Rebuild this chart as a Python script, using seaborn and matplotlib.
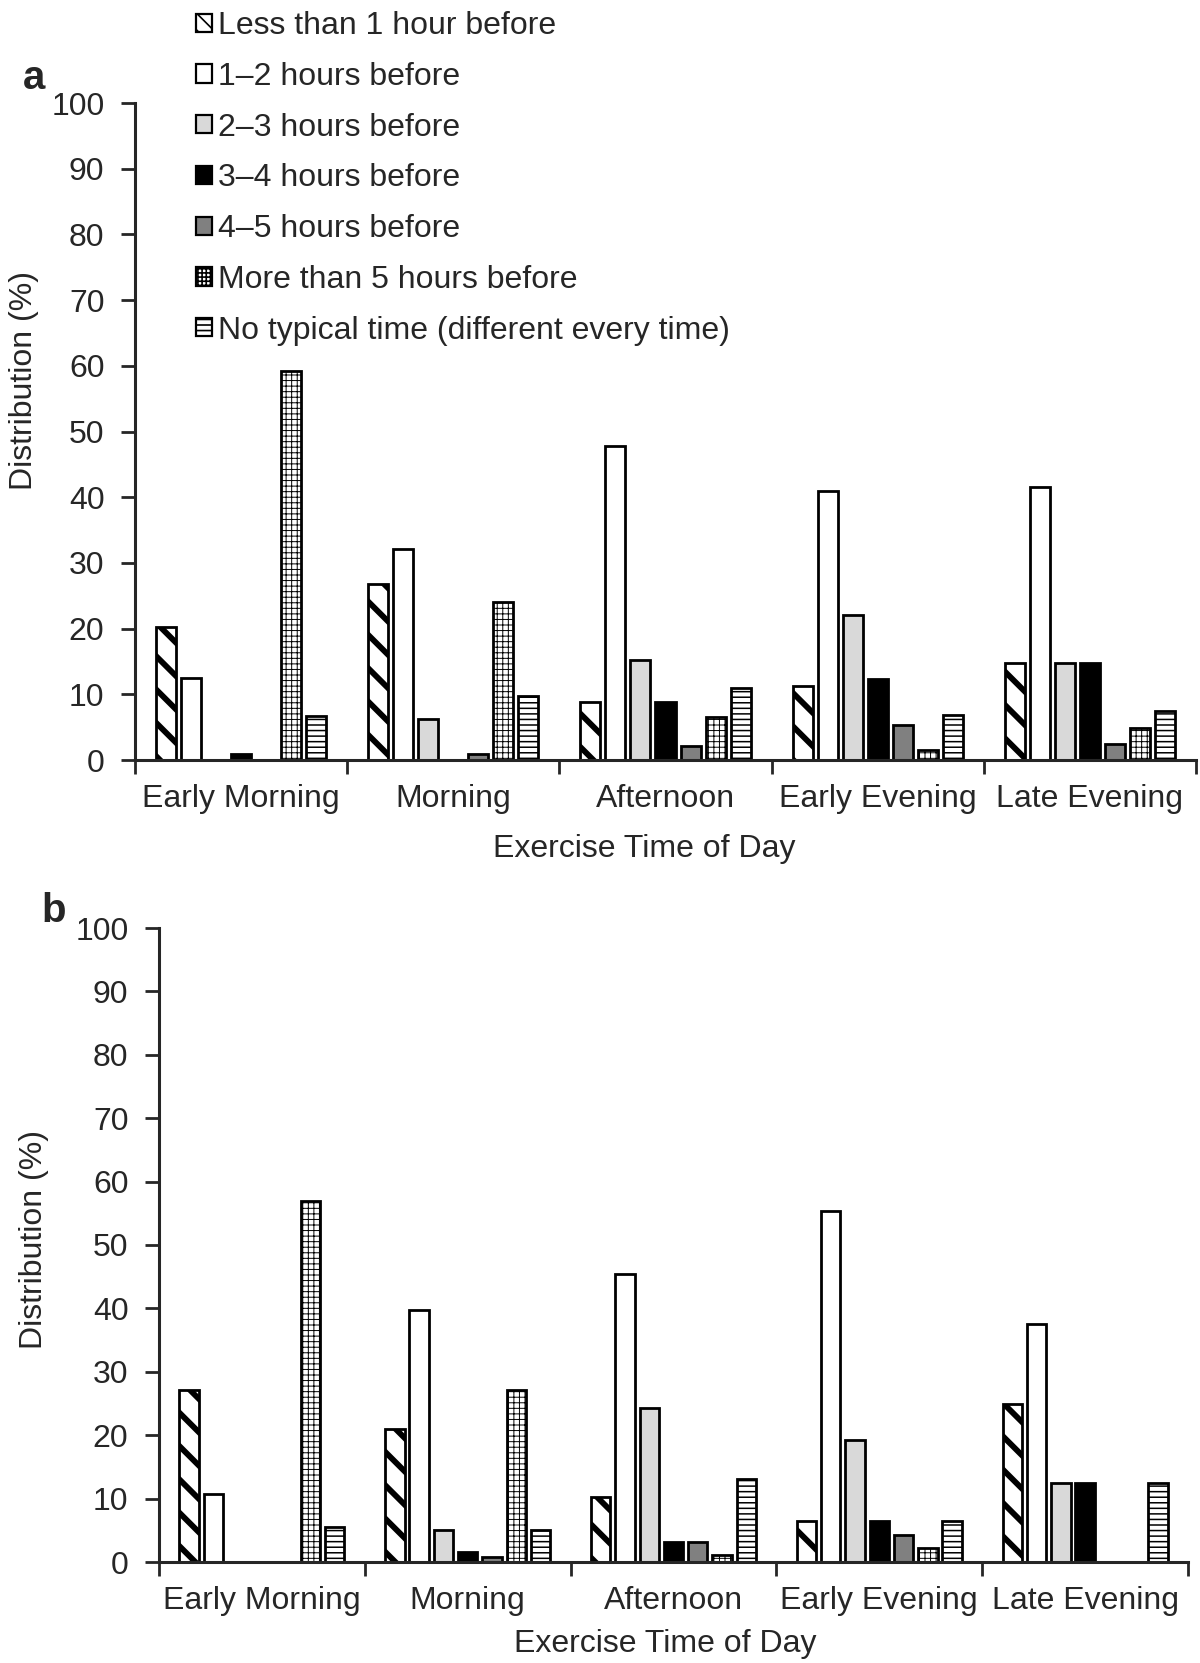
import matplotlib
matplotlib.use("Agg")
import matplotlib.pyplot as plt
from matplotlib.patches import Patch
import pandas as pd
import seaborn as sns
from matplotlib.ticker import FixedLocator, NullFormatter

# ---- data ---------------------------------------------------------------
times = ["Early Morning", "Morning", "Afternoon", "Early Evening", "Late Evening"]
timing = [
    "Less than 1 hour before",
    "1\u20132 hours before",
    "2\u20133 hours before",
    "3\u20134 hours before",
    "4\u20135 hours before",
    "More than 5 hours before",
    "No typical time (different every time)",
]

# panel a (% of respondents), one list per timing category across the five times
a_lt1 = [20.3, 26.8, 8.8, 11.3, 14.7]
a_1_2 = [12.5, 32.1, 47.8, 41.0, 41.6]
a_2_3 = [0.0, 6.2, 15.2, 22.0, 14.7]
a_3_4 = [0.9, 0.0, 8.8, 12.3, 14.7]
a_4_5 = [0.0, 0.9, 2.1, 5.4, 2.4]
a_gt5 = [59.2, 24.1, 6.5, 1.5, 4.9]
a_none = [6.7, 9.8, 10.9, 6.8, 7.4]

# panel b
b_lt1 = [27.1, 20.9, 10.2, 6.4, 25.0]
b_1_2 = [10.8, 39.8, 45.5, 55.4, 37.5]
b_2_3 = [0.0, 5.0, 24.3, 19.2, 12.5]
b_3_4 = [0.0, 1.6, 3.1, 6.4, 12.5]
b_4_5 = [0.0, 0.8, 3.1, 4.3, 0.0]
b_gt5 = [56.9, 27.1, 1.1, 2.2, 0.0]
b_none = [5.5, 5.1, 13.1, 6.4, 12.5]

panel_a = [a_lt1, a_1_2, a_2_3, a_3_4, a_4_5, a_gt5, a_none]
panel_b = [b_lt1, b_1_2, b_2_3, b_3_4, b_4_5, b_gt5, b_none]

# ---- styling ------------------------------------------------------------
face = ["white", "white", "#d9d9d9", "black", "#808080", "white", "white"]
hatches = ["\\", "", "", "", "", "+++", "---"]
legend_hatches = ["\\\\", "", "", "", "", "++++", "---"]
hatch_lw = [4.2, 1.0, 1.0, 1.0, 1.0, 0.7, 1.1]
legend_hatch_lw = [2.6, 1.0, 1.0, 1.0, 1.0, 0.6, 1.0]

sns.set_style("ticks")
plt.rcParams["font.family"] = ["Liberation Sans", "DejaVu Sans"]
plt.rcParams["hatch.linewidth"] = 1.2
FS = 23

W, H = 1200, 1663
fig = plt.figure(figsize=(W / 100, H / 100), dpi=100)
ax_a = fig.add_axes([135 / W, 1 - 760 / H, 1061 / W, 657 / H])
ax_b = fig.add_axes([159 / W, 1 - 1562 / H, 1029 / W, 634 / H])


def long_frame(series):
    rows = []
    for name, vals in zip(timing, series):
        for t, v in zip(times, vals):
            rows.append({"time": t, "timing": name, "pct": v})
    return pd.DataFrame(rows)


def set_hatch_width(p, w):
    if hasattr(p, "set_hatch_linewidth"):
        p.set_hatch_linewidth(w)


def draw_panel(ax, series, ylabel_xy, xlabel_xy):
    df = long_frame(series)
    sns.barplot(
        data=df, x="time", y="pct", hue="timing",
        order=times, hue_order=timing,
        palette=dict(zip(timing, face)),
        edgecolor="black", linewidth=2.0,
        width=0.825, gap=0.2, errorbar=None, legend=False, ax=ax,
    )
    for i, cont in enumerate(ax.containers):
        for p in cont.patches:
            p.set_hatch(hatches[i])
            p.set_edgecolor("black")
            set_hatch_width(p, hatch_lw[i])
            if p.get_height() <= 0:
                p.set_visible(False)

    ax.set_xlim(-0.5, len(times) - 0.5)
    ax.set_ylim(0, 100)
    ax.set_yticks(range(0, 101, 10))
    ax.tick_params(axis="y", labelsize=FS, length=10, width=2, pad=12, direction="out")
    ax.tick_params(axis="x", which="major", labelsize=FS, length=0, pad=17)
    ax.xaxis.set_minor_locator(FixedLocator([i - 0.5 for i in range(len(times) + 1)]))
    ax.xaxis.set_minor_formatter(NullFormatter())
    ax.tick_params(axis="x", which="minor", length=10, width=2, direction="out")

    for side in ("top", "right"):
        ax.spines[side].set_visible(False)
    for side in ("left", "bottom"):
        ax.spines[side].set_linewidth(2.2)

    ax.set_ylabel("Distribution (%)", fontsize=FS)
    ax.yaxis.label.set_va("center")
    ax.yaxis.set_label_coords(*ylabel_xy)
    ax.set_xlabel("Exercise Time of Day", fontsize=FS)
    ax.xaxis.label.set_va("center")
    ax.xaxis.set_label_coords(*xlabel_xy)


draw_panel(ax_a, panel_a, (-0.1046, 0.577), (0.48, -0.135))
draw_panel(ax_b, panel_b, (-0.121, 0.509), (0.492, -0.129))

# shared legend at the top
handles = []
for i in range(len(timing)):
    h = Patch(facecolor=face[i], edgecolor="black", linewidth=1.6, hatch=legend_hatches[i])
    set_hatch_width(h, legend_hatch_lw[i])
    handles.append(h)

fig.legend(
    handles=handles, labels=timing,
    loc="upper left", bbox_to_anchor=(196 / W, 1 - 11 / H),
    frameon=False, fontsize=FS, borderpad=0, borderaxespad=0,
    handlelength=0.5, handleheight=0.5, handletextpad=0.18, labelspacing=0.65,
)

fig.text(34 / W, 1 - 78 / H, "a", fontsize=29, fontweight="bold", ha="center", va="center")
fig.text(54 / W, 1 - 911 / H, "b", fontsize=29, fontweight="bold", ha="center", va="center")

fig.savefig("out.png", dpi=100, facecolor="white")
